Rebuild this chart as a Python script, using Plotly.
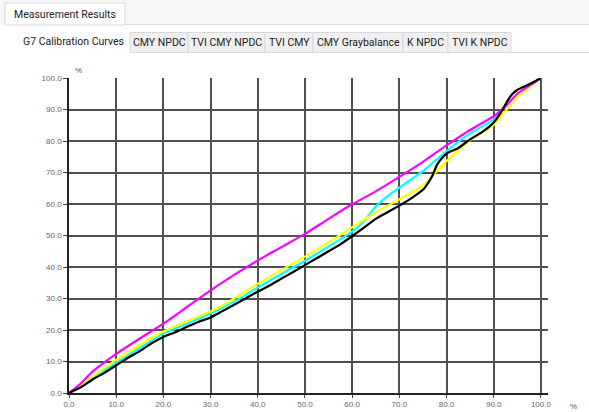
import plotly.graph_objects as go

W, H = 589, 412
L, R, T, B = 69, 41, 78, 19

# Curve data (tone value in % vs measured %)
cyan_x = [0, 5, 10, 15, 20, 25, 30, 35, 40, 45, 50, 55, 60, 62.5, 65, 67.5, 70, 75, 80, 85, 90, 92.5, 95, 97.5, 100]
cyan_y = [0, 4.8, 9.6, 14.3, 18.9, 22.0, 25.2, 29.0, 33.5, 37.8, 42.0, 46.5, 51.2, 54.5, 59.2, 62.5, 65.2, 70.4, 76.8, 82.4, 86.9, 91.3, 94.6, 97.4, 100]

yellow_x = [0, 5, 10, 15, 20, 25, 30, 35, 40, 45, 50, 55, 60, 65, 70, 75, 77.5, 80, 85, 90, 95, 100]
yellow_y = [0, 5.2, 10.5, 15.3, 19.5, 22.8, 25.9, 30.0, 34.7, 39.0, 43.3, 47.8, 52.6, 57.3, 61.5, 65.8, 69.8, 73.6, 80.3, 85.2, 94.0, 100]

magenta_x = [0, 2.5, 5, 10, 15, 20, 25, 30, 35, 40, 45, 50, 55, 60, 65, 70, 75, 80, 85, 90, 92.5, 95, 97.5, 100]
magenta_y = [0, 3.0, 6.8, 12.4, 17.3, 22.0, 27.3, 32.6, 37.5, 42.1, 46.3, 50.5, 55.3, 59.9, 64.0, 68.6, 73.4, 78.6, 83.5, 87.9, 91.0, 95.0, 97.5, 100]

black_x = [0, 2.5, 5, 7.5, 10, 12.5, 15, 17.5, 20, 22.5, 25, 27.5, 30, 32.5, 35, 37.5, 40, 42.5, 45, 47.5, 50, 52.5, 55, 57.5, 60,
           62.5, 65, 67.5, 70, 72.5, 75, 76, 77, 78, 79, 80, 82.5, 85, 87.5, 90, 91.5, 93, 94, 95, 97.5, 100]
black_y = [0, 1.8, 4.3, 6.4, 8.8, 11.2, 13.3, 15.8, 17.8, 19.3, 21.0, 22.6, 24.0, 26.0, 28.0, 30.1, 32.2, 34.1, 36.3, 38.4, 40.6, 42.8, 45.0, 47.2, 49.8,
           52.5, 55.3, 57.4, 59.5, 61.8, 64.5, 66.5, 69.0, 72.5, 74.5, 76.0, 77.8, 80.5, 82.8, 85.9, 89.0, 93.0, 95.0, 96.2, 98.0, 100]

x_ticks = [0, 10, 20, 30, 40, 50, 60, 70, 80, 90, 100]
y_ticks = [0, 10, 20, 30, 40, 50, 60, 70, 80, 90, 100]

tabs = ["G7 Calibration Curves", "CMY NPDC", "TVI CMY NPDC", "TVI CMY",
        "CMY Graybalance", "K NPDC", "TVI K NPDC"]
tab_edges = [12, 130, 188, 265, 313, 403, 448, 511]

UI_FONT = "Roboto"

fig = go.Figure()
for xs, ys, col in [(cyan_x, cyan_y, "#00FFFF"), (yellow_x, yellow_y, "#FFFF00"),
                    (magenta_x, magenta_y, "#FF00FF"), (black_x, black_y, "#000000")]:
    fig.add_trace(go.Scatter(x=xs, y=ys, mode="lines",
                             line=dict(color=col, width=2.2, shape="spline", smoothing=0.6),
                             showlegend=False, hoverinfo="skip"))


def px(x):
    return (x - L) / (W - L - R)


def py(y):
    return (H - B - y) / (H - T - B)


def label(text, x, y, size=10.5, color="#222", family=UI_FONT):
    return dict(text=text, x=px(x), y=py(y), xref="paper", yref="paper", showarrow=False,
                xanchor="center", yanchor="middle", font=dict(size=size, color=color, family=family))


shapes = []
annos = []
# top tab row
shapes.append(dict(type="rect", xref="paper", yref="paper", x0=px(0), x1=px(589), y0=py(25), y1=py(0),
                   fillcolor="#f7f7f7", line=dict(width=0), layer="below"))
shapes.append(dict(type="line", xref="paper", yref="paper", x0=px(5), x1=px(589), y0=py(24.5), y1=py(24.5),
                   line=dict(color="#dcdcdc", width=1)))
shapes.append(dict(type="rect", xref="paper", yref="paper", x0=px(5), x1=px(125), y0=py(25), y1=py(3),
                   fillcolor="#ffffff", line=dict(color="#d9d9d9", width=1)))
annos.append(label("Measurement Results", 65, 14))
# second tab row
shapes.append(dict(type="line", xref="paper", yref="paper", x0=px(130), x1=px(589), y0=py(52.5), y1=py(52.5),
                   line=dict(color="#dcdcdc", width=1)))
for i, name in enumerate(tabs):
    x0, x1 = tab_edges[i], tab_edges[i + 1]
    if i == 0:
        shapes.append(dict(type="rect", xref="paper", yref="paper", x0=px(x0), x1=px(x1), y0=py(53), y1=py(30),
                           fillcolor="#ffffff", line=dict(width=0)))
        annos.append(label(name, (x0 + x1) / 2 + 2, 41.5))
    else:
        shapes.append(dict(type="rect", xref="paper", yref="paper", x0=px(x0), x1=px(x1), y0=py(52.5), y1=py(32.5),
                           fillcolor="#f0f0f0", line=dict(color="#d9d9d9", width=1)))
        annos.append(label(name, (x0 + x1) / 2, 42.5))
# unit labels
annos.append(label("%", 78, 70, size=8, color="#555", family="Arial"))
annos.append(label("%", 573, 406, size=8, color="#555", family="Arial"))

fig.update_layout(
    width=W, height=H, margin=dict(l=L, r=R, t=T, b=B, autoexpand=False),
    paper_bgcolor="white", plot_bgcolor="white",
    shapes=shapes, annotations=annos,
    xaxis=dict(range=[0, 101.5], tickvals=x_ticks, ticktext=[f"{v:.1f}" for v in x_ticks],
               showgrid=True, gridcolor="#505050", gridwidth=1.5, zeroline=False,
               showline=True, linecolor="#222", linewidth=1.5, automargin=False,
               ticks="outside", ticklen=3, tickcolor="#444",
               tickfont=dict(size=8, color="#666", family="Arial")),
    yaxis=dict(range=[0, 100], tickvals=y_ticks, ticktext=[f"{v:.1f}" for v in y_ticks],
               showgrid=True, gridcolor="#505050", gridwidth=1.5, zeroline=False,
               showline=True, linecolor="#222", linewidth=1.5, automargin=False,
               ticks="outside", ticklen=4, tickcolor="#444",
               tickfont=dict(size=8, color="#666", family="Arial")),
)

# the page body has a default 8px margin; drop it so the figure sits at the window's corner
fig.write_html("out.html", config={"displayModeBar": False},
               post_script="document.body.style.margin='0';")
